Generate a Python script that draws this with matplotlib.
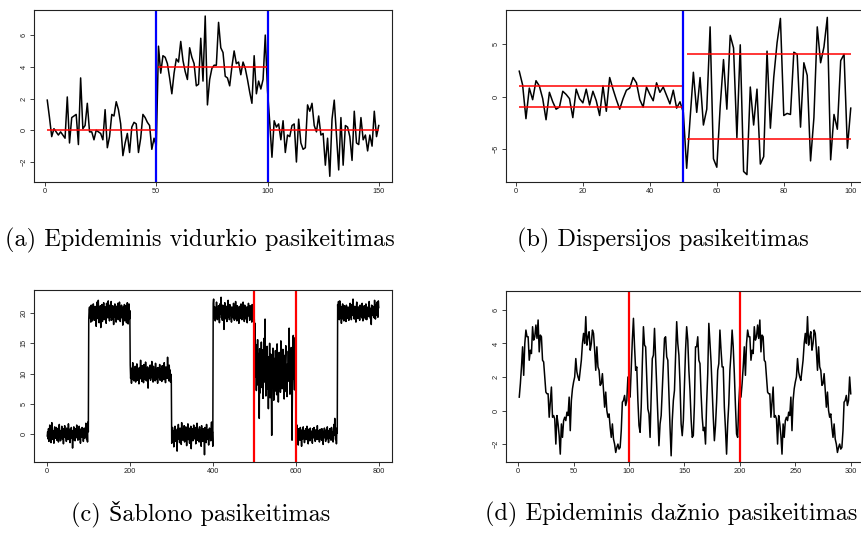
import numpy as np
import matplotlib.pyplot as plt

# (a) vidurkio pasikeitimas: trys atkarpos po 50 taskus
a_seg1 = [1.9, 0.8, -0.4, 0.1, -0.1, -0.3, -0.1, -0.3, -0.5, 2.1,
          -0.8, 0.8, 0.9, 1.0, -0.9, 3.3, 0.1, 0.3, 1.7, -0.1,
          -0.1, -0.6, 0.0, -0.1, -0.2, -0.6, 1.3, -1.1, -0.4, 1.0,
          0.9, 1.8, 1.3, 0.4, -1.6, -0.8, -0.2, -1.4, 0.2, 0.5,
          0.4, -1.4, -0.5, 1.0, 0.8, 0.5, 0.3, -1.2, -0.5, -1.0]
a_seg2 = [5.3, 3.6, 4.7, 4.6, 4.2, 3.3, 2.3, 3.6, 4.5, 4.3,
          5.6, 4.4, 3.7, 3.2, 5.2, 4.6, 4.2, 2.8, 2.9, 5.8,
          3.1, 7.2, 1.6, 3.2, 3.9, 4.1, 4.1, 6.8, 5.2, 4.9,
          3.4, 3.3, 2.8, 4.0, 5.0, 4.2, 4.3, 3.5, 4.3, 3.9,
          3.2, 2.4, 1.7, 4.7, 2.3, 3.1, 2.6, 3.2, 6.0, 2.5]
a_seg3 = [0.5, -1.7, 0.6, 0.2, 0.4, -0.6, 0.6, -1.4, -0.3, -0.4,
          0.3, 0.4, -2.0, 0.7, -0.8, -1.2, -1.1, 1.6, 1.2, 1.7,
          0.3, -0.1, 0.9, -0.3, -0.2, -2.2, -0.5, -2.9, 0.7, 1.9,
          -0.3, -2.5, 0.8, -2.2, 0.3, 0.2, -0.4, -1.9, 1.2, -0.8,
          -0.9, 0.8, -0.6, -0.3, -1.3, -0.3, -1.0, 1.2, -0.4, 0.3]
a_levels = [0, 4, 0]
a_breaks = [50, 100]

# (b) dispersijos pasikeitimas
b_seg1 = [2.4, 1.1, -2.1, 0.8, -0.3, 1.5, 1.0, -0.2, -2.2, 0.4,
          -0.5, -1.2, -1.0, 0.5, 0.2, -0.2, -2.0, 0.7, -0.2, -0.6,
          0.7, -0.8, 0.5, -0.4, -1.8, 1.0, -1.4, 1.8, 0.7, -0.3,
          -1.2, -0.2, 0.6, 0.8, 1.8, 1.3, -0.3, -1.0, 0.9, 0.2,
          -0.4, 1.3, 0.4, 0.9, 0.1, -0.7, 0.6, -1.1, -0.5, -1.5]
b_seg2 = [-6.8, -2.2, 2.3, -1.5, 1.8, -2.7, -1.2, 6.6, -5.9, -6.7,
          -1.0, 3.5, -1.2, 5.8, 4.6, -3.9, 4.9, -7.1, -7.4, 0.9,
          -2.7, 0.7, -6.4, -5.7, 4.3, -3.0, 1.8, 5.1, 7.4, -1.8,
          -1.6, -1.7, 4.2, 4.0, -2.9, 3.2, 2.0, -6.1, -2.0, 6.6,
          3.2, 4.7, 7.5, -6.0, -1.7, -3.1, 3.4, 4.0, -4.9, -1.1]
b_bands = [1, 4]
b_breaks = [50]

# (c) sablono pasikeitimas: 8 atkarpos po 100 tasku
c_seg1 = [-0.3, 0.4, -0.8, 0.9, -1.2, 0.2, 1.5, -0.6, 0.3, -1.4,
          0.8, 1.9, -0.2, 0.6, -0.9, 0.1, -1.5, 0.7, 1.2, -0.4,
          0.3, -0.7, 1.1, -1.0, 0.5, -0.2, 0.9, -1.3, 0.4, 1.6,
          -0.5, 0.2, -1.1, 0.6, -0.3, 1.3, -0.8, 0.0, 0.7, -1.6,
          0.9, -0.4, 1.4, 0.1, -0.6, 0.5, -1.2, 1.0, -0.1, 0.3,
          -0.9, 1.7, 0.2, -0.5, 0.8, -1.4, 0.4, -0.2, 1.1, -0.7,
          0.6, -2.3, 0.1, -0.9, 1.2, -0.3, 0.5, -1.1, 0.9, 0.0,
          -0.6, 1.5, -0.4, 0.3, -1.0, 0.7, -0.2, 1.3, -0.8, 0.4,
          -1.5, 0.2, 0.9, -0.5, 1.1, -0.1, 0.6, -1.2, 0.3, 1.0,
          -0.7, 0.5, -0.3, 1.8, 0.1, -0.9, 0.7, -1.3, 2.0, 0.4]
c_seg2 = [18.9, 20.6, 21.0, 19.2, 20.4, 18.5, 21.3, 19.8, 20.9, 18.7,
          20.2, 21.5, 19.4, 20.1, 18.8, 21.1, 19.6, 20.7, 17.8, 20.3,
          21.8, 19.1, 20.5, 22.1, 19.7, 18.4, 20.8, 19.3, 21.2, 17.6,
          20.0, 19.5, 21.4, 18.6, 20.6, 19.9, 21.7, 18.9, 20.2, 19.0,
          21.0, 20.4, 18.3, 21.6, 19.8, 20.5, 19.2, 22.0, 19.6, 20.1,
          18.7, 21.3, 20.0, 19.4, 21.9, 18.8, 20.7, 19.1, 21.2, 20.3,
          18.1, 20.9, 19.7, 21.5, 19.3, 20.6, 18.5, 21.1, 20.2, 19.8,
          21.6, 18.9, 20.4, 19.0, 21.8, 20.1, 18.6, 20.8, 19.5, 21.3,
          19.2, 20.7, 18.0, 21.0, 20.3, 19.6, 21.4, 18.7, 20.5, 19.9,
          21.2, 18.4, 20.1, 21.7, 19.3, 18.2, 20.6, 21.5, 19.0, 20.4]
c_seg3 = [11.4, 9.2, 10.6, 8.4, 10.9, 9.7, 11.8, 9.0, 10.3, 8.8,
          10.7, 9.5, 11.2, 8.6, 10.1, 9.9, 11.6, 8.9, 10.4, 9.3,
          10.8, 8.3, 11.0, 9.6, 10.2, 12.2, 9.1, 10.5, 8.7, 11.3,
          9.8, 10.0, 8.5, 11.5, 9.4, 10.6, 9.0, 11.9, 10.2, 8.8,
          10.9, 9.6, 11.1, 7.6, 10.3, 9.2, 10.8, 9.9, 11.4, 8.9,
          10.1, 9.5, 12.0, 9.3, 10.7, 8.6, 11.2, 10.0, 9.1, 10.5,
          8.8, 11.7, 9.7, 10.3, 9.0, 10.9, 8.4, 11.0, 9.8, 10.6,
          9.3, 11.5, 8.9, 10.2, 9.6, 10.8, 8.7, 11.3, 10.1, 9.4,
          10.5, 9.0, 11.8, 9.7, 10.4, 8.5, 11.1, 9.9, 10.7, 9.2,
          12.7, 9.5, 10.3, 8.8, 11.4, 9.1, 10.6, 8.6, 9.9, 8.9]
c_seg4 = [-1.5, 0.3, 1.1, -0.9, 0.6, -2.1, 0.2, -0.4, 1.3, -1.2,
          0.7, -0.6, 0.1, -2.8, 0.9, -0.3, 1.6, -0.8, 0.4, -1.4,
          1.0, -0.1, 0.5, -1.7, 1.9, -0.5, 0.2, -1.0, 0.8, -0.2,
          1.4, -1.3, 0.3, -0.7, 1.2, 0.0, -1.9, 0.6, -0.4, 1.7,
          -0.9, 0.1, 1.0, -1.5, 0.5, -0.3, 1.3, -2.4, 0.4, -0.6,
          0.9, -1.1, 0.2, 1.5, -0.8, 0.3, -0.1, 1.1, -1.6, 0.7,
          -0.4, 1.8, -1.0, 0.2, -0.5, 0.8, -1.3, 1.2, 0.0, -0.7,
          0.6, -2.0, 1.4, -0.2, 0.5, -1.2, 0.9, -0.6, 0.3, -3.4,
          1.1, -0.3, 0.4, -1.4, 1.6, -0.9, 0.2, -0.5, 0.7, -1.8,
          0.5, 1.0, -0.4, 0.3, -1.1, 0.8, 2.0, -0.6, 0.4, -2.0]
c_seg5 = [21.6, 22.3, 20.4, 19.1, 21.0, 18.7, 20.6, 19.4, 21.8, 20.1,
          18.9, 20.7, 19.6, 21.2, 20.0, 18.4, 21.5, 19.8, 20.3, 22.6,
          19.2, 20.9, 18.8, 21.3, 19.7, 20.5, 17.3, 20.2, 21.7, 19.5,
          20.8, 19.0, 21.1, 18.6, 20.4, 19.9, 22.1, 19.3, 20.6, 18.9,
          21.4, 20.0, 19.6, 20.9, 18.5, 21.0, 19.8, 20.3, 19.2, 21.6,
          20.1, 18.8, 20.7, 19.5, 21.9, 19.0, 20.4, 18.7, 21.2, 20.0,
          19.4, 20.8, 18.3, 21.1, 19.7, 20.5, 19.1, 21.5, 20.2, 18.9,
          20.6, 19.3, 21.8, 19.9, 20.1, 18.6, 21.3, 19.6, 20.7, 19.0,
          20.4, 21.0, 18.4, 20.9, 19.5, 21.6, 19.8, 20.2, 18.8, 21.2,
          19.4, 20.6, 20.0, 18.5, 21.4, 19.7, 20.3, 19.1, 20.8, 18.9]
c_seg6 = [12.6, 18.3, 9.5, 14.8, 7.2, 12.9, 10.4, 15.6, 8.1, 13.3,
          11.2, 2.6, 14.1, 6.8, 12.0, 9.3, 15.2, 7.7, 11.8, 13.9,
          5.9, 10.7, 15.8, 8.6, 12.4, 19.0, 9.8, 6.3, 13.6, 10.1,
          14.5, 7.4, 11.5, 4.2, 12.8, 9.0, 15.0, 6.0, 10.9, 13.2,
          8.3, -0.2, 11.7, 7.9, 14.2, 9.6, 5.6, 12.5, 10.3, 7.1,
          13.8, 8.8, 11.1, 6.5, 14.9, 9.2, 12.2, 5.3, 10.6, 13.5,
          8.0, 11.9, 6.9, 15.4, 9.7, 12.7, 7.5, 10.2, 14.0, 8.4,
          11.3, 5.8, 13.0, 9.9, 12.1, 14.6, 7.0, 10.8, 6.2, 11.6,
          8.7, 13.7, 9.4, 17.5, 10.5, 6.6, 12.3, 8.2, 14.3, 10.0,
          -1.0, 7.8, 13.1, 16.3, 9.1, 11.4, 7.3, 15.9, 8.5, 12.6]
c_seg7 = [-1.1, 0.8, 1.5, -0.4, 0.2, -1.8, 0.9, -0.2, 0.5, -1.0,
          1.1, -0.6, 0.3, -2.0, 0.7, 0.0, -0.8, 1.2, -0.3, 0.4,
          -1.4, 0.6, -0.1, 0.9, -0.9, 0.2, 1.3, -0.5, 0.1, -1.6,
          0.8, -0.3, 0.4, -1.1, 1.0, -0.2, 0.5, -0.7, 0.3, -1.5,
          0.9, 0.0, -0.6, 1.1, -0.4, 0.2, -1.2, 0.7, -0.1, 0.4,
          -0.9, 1.4, -0.3, 0.1, -0.8, 0.6, -1.3, 0.3, 0.8, -0.5,
          0.2, -1.0, 0.9, -0.2, 0.5, -1.7, 0.4, -0.4, 1.0, -0.6,
          0.1, -1.2, 0.7, 0.3, -0.8, 1.2, -0.1, 0.5, -1.4, 0.6,
          -0.3, 0.9, -0.7, 0.2, -1.0, 1.1, 0.0, -0.5, 0.4, -1.3,
          0.8, 1.6, -0.2, 2.6, 0.3, -0.9, 1.0, -1.6, 0.5, 0.2]
c_seg8 = [21.4, 19.6, 21.9, 20.3, 18.9, 22.0, 20.6, 19.2, 21.1, 18.3,
          20.8, 19.7, 21.5, 19.0, 20.4, 18.7, 21.2, 20.0, 19.4, 20.9,
          18.6, 21.3, 19.8, 20.5, 19.1, 21.0, 20.2, 18.8, 20.7, 19.5,
          21.6, 19.3, 20.1, 18.9, 21.4, 20.4, 19.6, 22.3, 19.9, 20.6,
          19.0, 21.1, 19.7, 20.3, 18.5, 20.9, 21.8, 19.4, 20.2, 19.1,
          21.0, 19.8, 20.5, 18.8, 21.3, 20.0, 19.5, 20.8, 19.2, 21.6,
          20.1, 18.7, 20.6, 19.9, 21.2, 19.3, 20.4, 19.0, 21.5, 20.3,
          18.9, 20.7, 19.6, 21.0, 20.2, 19.4, 21.9, 19.8, 20.5, 19.1,
          20.8, 18.1, 21.3, 19.7, 20.0, 21.1, 19.5, 20.6, 19.2, 22.1,
          20.3, 19.0, 21.4, 20.1, 19.6, 21.8, 20.4, 19.3, 22.0, 20.9]
c_breaks = [500, 600]

# (d) daznio pasikeitimas: leta banga, greita banga, vel leta
d_slow = [0.8, 1.6, 2.6, 3.8, 2.1, 4.0, 4.8, 4.4, 4.4, 3.0,
          3.6, 3.4, 5.0, 4.2, 4.4, 5.1, 4.3, 5.4, 3.5, 4.5,
          4.4, 3.0, 2.9, 2.0, 1.1, 1.0, 1.0, -0.4, 0.5, 1.4,
          -0.4, -0.3, -0.5, -2.0, -0.3, -0.8, -1.5, -2.6, -0.8, -1.6,
          -0.6, -0.4, -0.6, -0.1, -0.3, 0.8, -1.2, 0.6, 1.3, 1.7,
          2.0, 3.1, 2.3, 2.0, 1.8, 2.4, 3.0, 4.0, 4.6, 4.0,
          5.6, 3.9, 4.4, 4.7, 3.6, 4.0, 4.8, 4.6, 3.6, 2.4,
          3.8, 2.6, 2.4, 1.5, 1.6, 2.2, 1.2, 0.2, 1.1, 0.0,
          -0.4, -0.2, -1.0, -1.6, -0.8, -1.7, -2.0, -2.5, -2.2, -2.0,
          -2.3, -2.2, -1.2, 0.5, 0.6, 0.9, 0.3, 0.6, 2.0, 1.0]
d_fast = [0.8, 2.5, 4.2, 5.5, 3.8, 2.4, 2.6, 0.6, -0.9, -1.3,
          0.2, 2.8, 5.0, 3.9, 3.8, 2.0, 0.1, -0.2, -1.6, 0.9,
          3.1, 3.3, 4.9, 3.2, 1.6, -0.3, -2.1, -0.8, -0.3, 1.2,
          2.6, 4.3, 4.4, 3.2, 3.0, 1.0, -1.0, -2.7, -0.6, 0.6,
          1.2, 3.3, 5.3, 4.0, 3.3, 1.6, -0.8, -1.5, -0.6, 1.5,
          3.6, 5.0, 4.2, 2.4, 1.2, -0.5, -1.6, -1.5, 0.4, 3.8,
          3.8, 4.4, 3.0, 2.8, 1.0, -0.4, -1.2, -1.0, -2.0, 0.4,
          2.2, 5.2, 4.0, 2.9, 1.2, -0.4, -1.8, -0.9, 0.5, 2.4,
          2.8, 4.8, 3.6, 2.6, 2.6, 0.2, -1.1, -2.6, -0.8, 0.4,
          2.4, 3.4, 4.8, 3.8, 2.2, 0.3, -1.4, -1.6, 0.4, 1.6]
d_breaks = [100, 200]

captions = ["(a) Epideminis vidurkio pasikeitimas",
            "(b) Dispersijos pasikeitimas",
            "(c) Šablono pasikeitimas",
            "(d) Epideminis dažnio pasikeitimas"]


def r_axes(ax, xticks, yticks, xlim, ylim):
    # R base grafikas: remelis, ticks i isore, y zymes pasuktos
    ax.set_xlim(xlim)
    ax.set_ylim(ylim)
    ax.set_xticks(xticks)
    ax.set_yticks(yticks)
    for s in ax.spines.values():
        s.set_linewidth(0.8)
        s.set_color('#222222')
    ax.tick_params(direction='out', length=3, width=0.6, labelsize=5.3,
                   colors='#222222', pad=1.5)
    ax.tick_params(axis='y', labelrotation=90)
    for lab in ax.get_yticklabels():
        lab.set_va('center')
    for lab in ax.get_xticklabels() + ax.get_yticklabels():
        lab.set_family('Liberation Sans')


W, H = 862, 538
fig = plt.figure(figsize=(W / 100, H / 100), dpi=100)


def box(left, top, right, bottom):
    return [left / W, 1 - bottom / H, (right - left) / W, (bottom - top) / H]


lw = 1.1

# (a)
ax = fig.add_axes(box(34, 10, 392, 182))
ya = np.concatenate([a_seg1, a_seg2, a_seg3])
xa = np.arange(1, len(ya) + 1)
ax.plot(xa, ya, color='black', lw=lw)
ax.hlines(a_levels[0], 1, 50, color='red', lw=1.1)
ax.hlines(a_levels[1], 51, 100, color='red', lw=1.1)
ax.hlines(a_levels[2], 101, 150, color='red', lw=1.1)
for b in a_breaks:
    ax.axvline(b, color='blue', lw=1.6)
r_axes(ax, [0, 50, 100, 150], [-2, 0, 2, 4, 6], (-4.96, 155.96), (-3.26, 7.58))

# (b)
ax = fig.add_axes(box(506, 10, 864, 182))
yb = np.concatenate([b_seg1, b_seg2])
xb = np.arange(1, len(yb) + 1)
ax.plot(xb, yb, color='black', lw=lw)
for v in (b_bands[0], -b_bands[0]):
    ax.hlines(v, 1, 50, color='red', lw=1.1)
for v in (b_bands[1], -b_bands[1]):
    ax.hlines(v, 51, 100, color='red', lw=1.1)
for b in b_breaks:
    ax.axvline(b, color='blue', lw=1.6)
r_axes(ax, [0, 20, 40, 60, 80, 100], [-5, 0, 5], (-2.96, 103.96), (-8.1, 8.2))

# (c)
ax = fig.add_axes(box(34, 290, 392, 462))
yc = np.concatenate([c_seg1, c_seg2, c_seg3, c_seg4, c_seg5, c_seg6, c_seg7, c_seg8])
xc = np.arange(1, len(yc) + 1)
ax.plot(xc, yc, color='black', lw=lw)
for b in c_breaks:
    ax.axvline(b, color='red', lw=1.6)
r_axes(ax, [0, 200, 400, 600, 800], [0, 5, 10, 15, 20], (-30.96, 831.96), (-4.6, 23.8))

# (d)
ax = fig.add_axes(box(506, 291, 864, 462))
yd = np.concatenate([d_slow, d_fast, d_slow])
xd = np.arange(1, len(yd) + 1)
ax.plot(xd, yd, color='black', lw=lw)
for b in d_breaks:
    ax.axvline(b, color='red', lw=1.6)
r_axes(ax, [0, 50, 100, 150, 200, 250, 300], [-2, 0, 2, 4, 6], (-10.96, 311.96), (-3.07, 7.13))

# antrastes po grafikais
cap_pos = [(200, 240), (663, 240), (201, 514), (671, 514)]
for (cx, cy), txt in zip(cap_pos, captions):
    fig.text(cx / W, 1 - cy / H, txt, ha='center', va='center', fontsize=17.5,
             family=['cmr10', 'Liberation Serif'])

fig.savefig('out.png', dpi=100)
